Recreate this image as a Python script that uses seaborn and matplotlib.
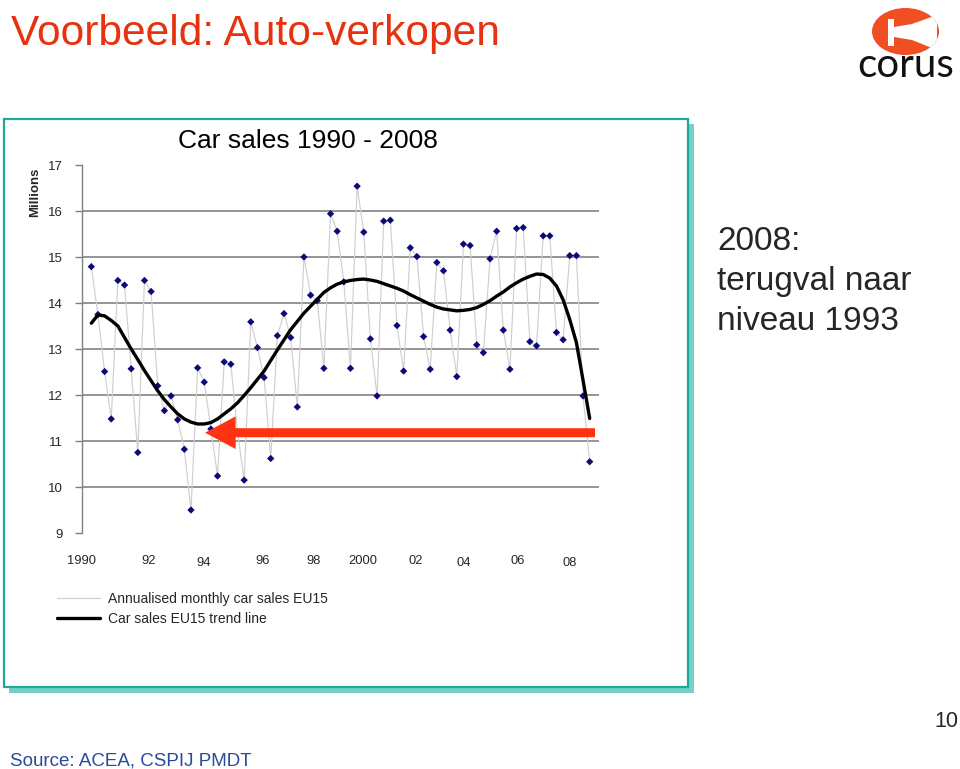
import numpy as np
import pandas as pd
import matplotlib
matplotlib.use("Agg")
import matplotlib.pyplot as plt
import seaborn as sns
from matplotlib.patches import Rectangle, Ellipse, Polygon
from matplotlib.transforms import ScaledTranslation

# ---------------- data (quarterly, 1990 Q1 - 2008 Q4, millions) ----------------
start_year = 1990
sales = [14.79, 13.75, 12.51, 11.48, 14.49, 14.39, 12.57, 10.75,
         14.49, 14.25, 12.20, 11.66, 11.98, 11.46, 10.82, 9.50,
         12.59, 12.28, 11.26, 10.24, 12.72, 12.67, 11.20, 10.15,
         13.59, 13.03, 12.38, 10.62, 13.29, 13.77, 13.25, 11.74,
         15.00, 14.17, 14.05, 12.58, 15.94, 15.56, 14.46, 12.58,
         16.54, 15.54, 13.22, 11.98, 15.78, 15.80, 13.51, 12.52,
         15.20, 15.01, 13.27, 12.56, 14.88, 14.70, 13.41, 12.40,
         15.28, 15.25, 13.09, 12.92, 14.96, 15.56, 13.41, 12.56,
         15.62, 15.64, 13.16, 13.07, 15.46, 15.46, 13.36, 13.20,
         15.03, 15.03, 11.98, 10.55]
trend = [13.56, 13.74, 13.72, 13.62, 13.50, 13.25, 13.00, 12.77,
         12.53, 12.31, 12.09, 11.90, 11.74, 11.59, 11.48, 11.41,
         11.37, 11.37, 11.40, 11.48, 11.59, 11.70, 11.83, 11.99,
         12.16, 12.34, 12.52, 12.75, 12.98, 13.20, 13.42, 13.60,
         13.78, 13.93, 14.08, 14.23, 14.33, 14.41, 14.46, 14.49,
         14.51, 14.52, 14.50, 14.47, 14.42, 14.37, 14.32, 14.26,
         14.18, 14.11, 14.04, 13.97, 13.91, 13.87, 13.85, 13.83,
         13.84, 13.86, 13.90, 13.97, 14.05, 14.15, 14.24, 14.35,
         14.44, 14.52, 14.58, 14.63, 14.62, 14.54, 14.37, 14.07,
         13.64, 13.14, 12.32, 11.49]
xtick_labels = ["1990", "92", "94", "96", "98", "2000", "02", "04", "06", "08"]
ytick_values = [9, 10, 11, 12, 13, 14, 15, 16, 17]
series_names = ["Annualised monthly car sales EU15", "Car sales EU15 trend line"]
level_1993 = 11.18  # level of the red arrow (2008 back to 1993 level)

t = [start_year + i / 4 for i in range(len(sales))]
df = pd.DataFrame({"t": t, "sales": sales, "trend": trend})

# ---------------- style ----------------
sns.set_style("white")
plt.rcParams["font.family"] = ["Liberation Sans", "DejaVu Sans"]

W, H = 960, 769
fig = plt.figure(figsize=(W / 100, H / 100), dpi=100)


def fx(px):
    return px / W


def fy(py):
    return 1 - py / H


# chart frame with shadow
shadow = Rectangle((fx(9), fy(692.5)), (694 - 9) / W, (692.5 - 124) / H,
                   transform=fig.transFigure, facecolor="#74d0c8",
                   edgecolor="none", zorder=-3)
frame = Rectangle((fx(3.5), fy(686.5)), (688 - 3.5) / W, (686.5 - 118.5) / H,
                  transform=fig.transFigure, facecolor="white",
                  edgecolor="#22a896", lw=1.6, zorder=-2)
fig.add_artist(shadow)
fig.add_artist(frame)

ax = fig.add_axes([fx(82), fy(533), (599 - 82) / W, (533 - 165) / H])
ax.set_facecolor("white")

sns.lineplot(data=df, x="t", y="sales", color="#cfcfcf", lw=0.85,
             ax=ax, label=series_names[0], zorder=2)
sns.scatterplot(data=df, x="t", y="sales", marker="D", s=14,
                color="#0a0a78", edgecolor="none", ax=ax, zorder=3)
sns.lineplot(data=df, x="t", y="trend", color="black", lw=2.4,
             ax=ax, label=series_names[1], zorder=4)

handles, labels = ax.get_legend_handles_labels()
if ax.get_legend() is not None:
    ax.get_legend().remove()

# red arrow: 2008 falls back to the 1993 level
ax.annotate("", xy=(1994.28, level_1993), xytext=(2008.95, level_1993),
            arrowprops=dict(facecolor="#ff3311", edgecolor="none",
                            width=6.5, headwidth=23.5, headlength=22,
                            shrink=0), zorder=6, annotation_clip=False)

# axes
ax.set_xlim(1989.726, 2009.1)
ax.set_ylim(9, 17)
ax.set_xlabel("")
ax.set_ylabel("")
xtick_pos = [1989.65, 1992.17, 1994.23, 1996.45, 1998.36,
             2000.23, 2002.22, 2004.02, 2006.05, 2008.0]
ax.set_xticks(xtick_pos)
ax.set_xticklabels(xtick_labels)
ax.set_yticks(ytick_values)
ax.set_yticklabels([str(v) for v in ytick_values])
ax.tick_params(axis="x", length=0, labelsize=9.3, pad=16)
ax.tick_params(axis="y", length=5, width=1, color="#808080",
               direction="out", labelsize=9.5, pad=9, left=True)
# a few year labels sit slightly lower in the original
for lab in ax.get_xticklabels():
    if lab.get_text() in ("94", "04", "08"):
        lab.set_transform(lab.get_transform() +
                          ScaledTranslation(0, -2 / 100, fig.dpi_scale_trans))
ax.grid(axis="y", color="#8c8c8c", lw=1.3)
ax.grid(axis="x", visible=False)
gl = ax.get_ygridlines()
gl[0].set_visible(False)
gl[-1].set_visible(False)
for side in ["top", "right", "bottom"]:
    ax.spines[side].set_visible(False)
ax.spines["left"].set_color("#808080")
ax.spines["left"].set_linewidth(1)

# legend below the chart
fig.legend(handles, labels, loc="upper left",
           bbox_to_anchor=(fx(57), fy(592)), frameon=False, fontsize=10,
           handlelength=3.1, handletextpad=0.55, labelspacing=0.45,
           borderpad=0, borderaxespad=0)

# texts
fig.text(fx(308), fy(148), "Car sales 1990 - 2008", ha="center",
         va="baseline", fontsize=19, color="black")
fig.text(fx(35), fy(192), "Millions", rotation=90, ha="center",
         va="center", fontsize=9.5, fontweight="bold")
fig.text(fx(11), fy(45), "Voorbeeld: Auto-verkopen", ha="left",
         va="baseline", fontsize=30.6, color="#e8320f")
fig.text(fx(717), fy(250), "2008:", ha="left", va="baseline", fontsize=24)
fig.text(fx(717), fy(290), "terugval naar", ha="left", va="baseline", fontsize=24)
fig.text(fx(717), fy(330), "niveau 1993", ha="left", va="baseline", fontsize=24)
fig.text(fx(958), fy(727), "10", ha="right", va="baseline", fontsize=15.5)
fig.text(fx(10), fy(765), "Source: ACEA, CSPIJ PMDT", ha="left",
         va="baseline", fontsize=13.5, color="#2a4a9c")

# corus logo
logo = Ellipse((fx(905.5), fy(31.5)), 67 / W, 47 / H, transform=fig.transFigure,
               facecolor="#f04e23", edgecolor="none")
fig.add_artist(logo)
horn_px = [(888, 19), (894, 19), (894, 27), (912, 24), (937, 15),
           (937, 50), (912, 40), (894, 37), (894, 46), (888, 46)]
horn = Polygon([(fx(x), fy(y)) for x, y in horn_px], closed=True,
               transform=fig.transFigure, facecolor="white", edgecolor="none")
horn.set_clip_path(logo)
fig.add_artist(horn)
fig.text(fx(906), fy(77), "corus", ha="center", va="baseline",
         fontsize=29, color="#111111", family=["Lato", "DejaVu Sans"])

fig.savefig("out.png", dpi=100)
